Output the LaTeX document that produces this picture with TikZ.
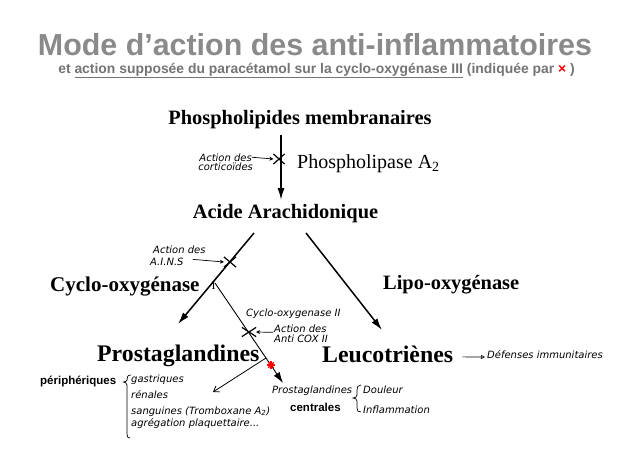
\documentclass[tikz,border=0pt]{standalone}
\usepackage{fontspec}
\setmainfont{Liberation Serif}
\setsansfont{Liberation Sans}
\newfontfamily\handfont{DejaVu Sans}
\usepackage{xcolor}
\usetikzlibrary{shapes, arrows.meta, positioning}
\definecolor{titlegray}{HTML}{8A8A8A}
\definecolor{subgray}{HTML}{747474}
\tikzstyle{product} = [font=\fontsize{20.4}{24}\selectfont\bfseries, inner sep=0pt, anchor=base]
\tikzstyle{big} = [font=\fontsize{23.8}{28}\selectfont\bfseries, inner sep=0pt, anchor=base west]
\tikzstyle{note} = [font=\handfont\itshape\fontsize{10}{12}\selectfont, inner sep=0pt, anchor=base west]
\tikzstyle{tag} = [font=\sffamily\bfseries\fontsize{11.5}{14}\selectfont, inner sep=0pt, anchor=base west]
\tikzstyle{arrow} = [line width=1.5pt, -{Latex[length=12pt,width=7pt]}]
\tikzstyle{thinarrow} = [line width=0.9pt, -{Latex[length=11pt,width=7pt]}]
\tikzstyle{handarrow} = [line width=0.7pt, -{Stealth[length=4pt,width=4pt]}]
\tikzstyle{block} = [cross out, draw, line width=1.2pt, minimum width=10pt, minimum height=9pt, inner sep=0pt]

\begin{document}
\begin{tikzpicture}[x=1pt, y=-1pt]
        \useasboundingbox (0,0) rectangle (630,450);
        % Title
        \node (title) [inner sep=0pt, anchor=base, text=titlegray, font=\sffamily\bfseries\fontsize{30.4}{36}\selectfont] at (315,55) {Mode d’action des anti-inflammatoires};
        \node (subtitle) [inner sep=0pt, anchor=base, text=subgray, font=\sffamily\bfseries\fontsize{13.9}{16}\selectfont] at (316.5,73) {et \underline{action supposée du paracétamol sur la cyclo-oxygénase III} (indiquée par {\color{red}×} )};
        % Cascade
        \node (phospho) [product] at (300,124) {Phospholipides membranaires};
        \node (pla2) [inner sep=0pt, anchor=base west, font=\fontsize{20}{24}\selectfont] at (297,168) {Phospholipase A\textsubscript{2}};
        \node (acide) [product] at (285.5,218) {Acide Arachidonique};
        \node (cox1) [product, anchor=base west, font=\fontsize{21}{25}\selectfont\bfseries] at (50,291) {Cyclo-oxygénase};
        \node (numI) [inner sep=0pt, font=\fontsize{12}{14}\selectfont] at (213.5,286) {I};
        \node (lipo) [product, anchor=base west] at (383,289) {Lipo-oxygénase};
        \node (prosta) [big] at (97,361) {Prostaglandines};
        \node (leuco) [big] at (322,362) {Leucotriènes};
        % End points of the arrows
        \coordinate (pl1) at (281,135);
        \coordinate (pl2) at (281,200);
        \coordinate (aaG) at (254,233);
        \coordinate (pgG) at (178,324);
        \coordinate (aaD) at (306,233);
        \coordinate (ltD) at (382,330);
        \coordinate (c2a) at (215,283);
        \coordinate (c2b) at (283,383);
        \coordinate (fork) at (266,358);
        \coordinate (periph) at (213,392);
        \draw [arrow] (pl1) -- (pl2);
        \draw [arrow] (aaG) -- (pgG);
        \draw [arrow] (aaD) -- (ltD);
        \draw [thinarrow] (c2a) -- (c2b);
        \draw [line width=0.8pt, -{Straight Barb[length=5pt,width=7pt]}] (fork) -- (periph);
        % Blocked steps
        \node (xcort) [block] at (279,159) {};
        \node (xains) [block, minimum width=11pt] at (230,262) {};
        \node (xcox2) [block, minimum width=13pt, minimum height=8pt] at (249,332) {};
        % Red star (paracetamol)
        \coordinate (star) at (271,365);
        \foreach \a in {0,45,90,135}
            \draw [red, line width=1.1pt] (star) ++(\a:4) -- ++(\a+180:8);
        % Handwritten notes
        \node (cort1) [note, anchor=base east] at (252,161) {Action des};
        \node (cort2) [note, below=1.5pt of cort1] {corticoïdes};
        \draw [handarrow] (cort1.east) -- (xcort.west);
        \node (ains1) [note] at (153,253) {Action des};
        \node (ains2) [note] at (150,265) {A.I.N.S};
        \draw [handarrow] ([xshift=9pt, yshift=2pt]ains2.east) -- (xains.west);
        \node (cox2) [note] at (246,316) {Cyclo-oxygenase II};
        \node (cox3) [note] at (274,332) {Action des};
        \node (cox4) [note, below=2pt of cox3.south west, anchor=north west] {Anti COX II};
        \draw [handarrow] ([xshift=-1pt]cox3.south west) -- (xcox2.east);
        \node (pgc) [note] at (272,393) {Prostaglandines};
        \node (centr) [tag] at (290,411) {centrales};
        \node (doul) [note] at (363,393) {Douleur};
        \node (infl) [note] at (363,413) {Inflammation};
        \node (def) [note] at (487,358) {Défenses immunitaires};
        \draw [line width=0.7pt, -{Triangle[open, length=4pt, width=4pt]}] ([xshift=9pt, yshift=-3pt]leuco.east) -- ([xshift=-2pt, yshift=1pt]def.base west);
        \node (periq) [tag] at (40,384) {périphériques};
        \node (gast) [note] at (131,382) {gastriques};
        \node (ren) [note] at (131,398) {rénales};
        \node (sang) [note] at (131,414) {sanguines (Tromboxane A\textsubscript{2})};
        \node (agreg) [note] at (131,426) {agrégation plaquettaire...};
        % Braces
        \draw [line width=0.7pt] (131,375) .. controls (127.5,375) and (127,377) .. (127,380) .. controls (127,381) and (125,382) .. (123.5,382) .. controls (125,382) and (127,383) .. (127,385) -- (127,434) .. controls (127,437) and (128,438) .. (130,438);
        \draw [line width=0.7pt] (361,385) .. controls (358,385) and (357,387) .. (357,390) -- (357,395) .. controls (357,397) and (355,398) .. (353,398) .. controls (355,398) and (357,399) .. (357,401) -- (357,408) .. controls (357,411) and (358,412) .. (361,412);
    \end{tikzpicture}
\end{document}
